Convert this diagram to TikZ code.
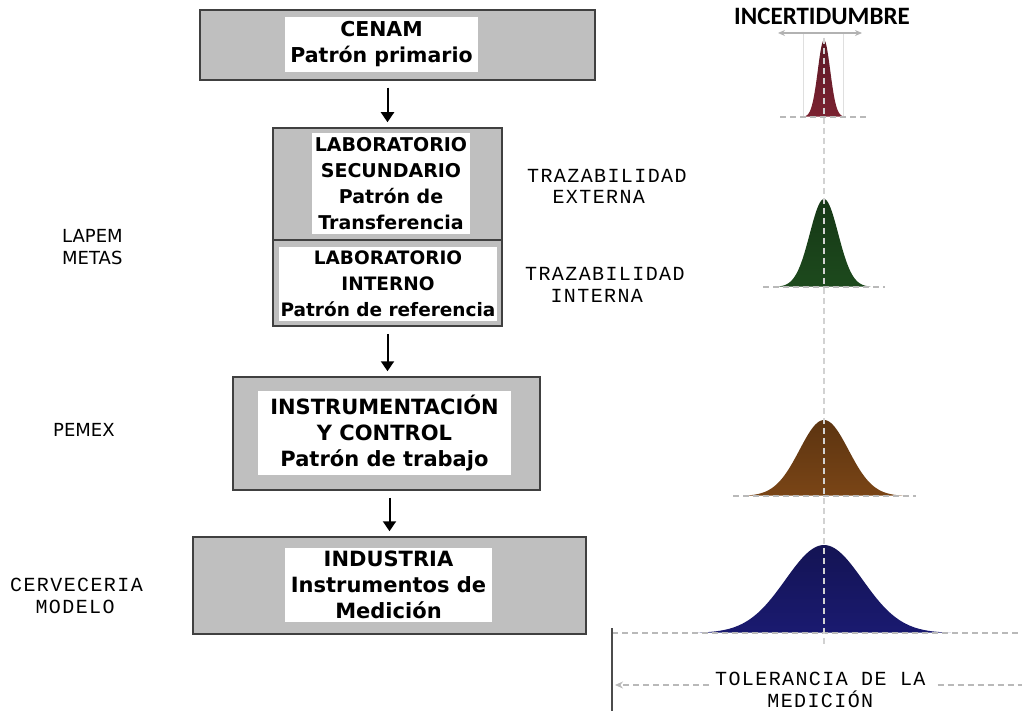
\documentclass[tikz,border=0pt]{standalone}
\usepackage{fontspec}
\setmainfont{DejaVu Sans}
\newfontfamily\monoff[LetterSpace=7]{Liberation Mono}
\newfontfamily\titleff{Carlito}
\usetikzlibrary{arrows.meta,positioning,calc}

\definecolor{bellone}{HTML}{7B2231}
\definecolor{belltwo}{HTML}{1D4A1D}
\definecolor{bellthree}{HTML}{7A4516}
\definecolor{bellfour}{HTML}{1A1A70}

\newcommand\stagefont[1]{\fontsize{#1}{26}\selectfont\bfseries}

\begin{document}
\begin{tikzpicture}[x=1pt,y=-1pt,
  stage/.style={draw=black!75,line width=1.5pt,fill=gray!50,inner sep=0pt},
  caption/.style={fill=white,inner sep=0pt,align=center},
  side/.style={anchor=base west,align=left,inner sep=0pt,font=\fontsize{18}{22}\selectfont},
  mono/.style={anchor=base west,align=left,inner sep=0pt,font=\monoff\fontsize{20}{21.5}\selectfont},
  to/.style={-{Triangle[length=10pt,width=13pt]},line width=2pt,shorten <=7pt,shorten >=5pt},
  guide/.style={gray!55,line width=1.2pt,dash pattern=on 6pt off 4pt},
  bell/.style={smooth,samples=80,domain=-3.3:3.3}]
  \useasboundingbox (0,0) rectangle (1022,711);

  % chain of standards
  \node[stage,minimum width=395,minimum height=70] (cenam) at (397.5,45) {};
  \node[caption,minimum width=193,minimum height=55,font=\stagefont{20.5}] (cenamtxt) at (381.5,44.5) {CENAM\\Patrón primario};

  \node[stage,minimum width=229,minimum height=112] (labsec) at (387.5,184) {};
  \node[caption,minimum width=158,minimum height=101,font=\stagefont{19}] (labsectxt) at (391,183.5) {LABORATORIO\\SECUNDARIO\\Patrón de\\Transferencia};

  \node[stage,minimum width=229,minimum height=86] (labint) at (387.5,283) {};
  \node[caption,minimum width=218,minimum height=74,font=\stagefont{18.5}] (labinttxt) at (388,284) {LABORATORIO\\INTERNO\\Patrón de referencia};

  \node[stage,minimum width=307,minimum height=113] (instr) at (386.5,433.5) {};
  \node[caption,minimum width=253,minimum height=84,font=\stagefont{21}] (instrtxt) at (384.5,433) {INSTRUMENTACIÓN\\Y CONTROL\\Patrón de trabajo};

  \node[stage,minimum width=393,minimum height=97] (ind) at (389.5,585.5) {};
  \node[caption,minimum width=207,minimum height=74,font=\stagefont{21}] (indtxt) at (388.5,585) {INDUSTRIA\\Instrumentos de\\Medición};

  \draw[to] (cenam.south -| labsec.north) -- (labsec.north);
  \draw[to] (labint.south) -- (labint.south |- instr.north);
  \draw[to] (instr.south -| ind.north) -- (ind.north);

  % who holds each level
  \node[side] (lapem) at (62,265) {LAPEM\\METAS};
  \node[side] (pemex) at (53,436) {PEMEX};
  \node[mono] (cerveceria) at (10,613) {CERVECERIA\\\phantom{XX}MODELO};
  \node[mono] (trazext) at (527,204) {TRAZABILIDAD\\\phantom{XX}EXTERNA};
  \node[mono] (trazint) at (525,302) {TRAZABILIDAD\\\phantom{XX}INTERNA};

  % uncertainty bells
  \node[font=\titleff\bfseries\fontsize{25}{28}\selectfont,inner sep=0pt,anchor=base] (incert) at (822,25) {INCERTIDUMBRE};
  \draw[gray!25,line width=1pt] (803,117) -- (803,33) (843,33) -- (843,117);
  \draw[gray!60,line width=1.2pt,{Stealth[length=7pt,width=6pt]}-{Stealth[length=7pt,width=6pt]}] (778,33) -- (862,33);

  \foreach \s/\b/\h/\col in {6.2/117/77/bellone,14.2/287/88/belltwo,24.5/496/76/bellthree,38.5/633/88/bellfour}
    \shade[top color=\col!75!black,bottom color=\col] plot[bell] ({824+\x*\s},{\b-\h*exp(-0.5*(\x)*(\x))}) -- cycle;

  \draw[guide] (780,117) -- (866,117);
  \draw[guide] (763,287) -- (885,287);
  \draw[guide] (733,496) -- (916,496);
  \draw[guide] (612,633) -- (1022,633);
  \draw[guide,gray!35] (824,38) -- (824,645);

  % tolerance
  \draw[black!70,line width=1.5pt] (612,628) -- (612,711);
  \node[mono] (tol) at (715,707) {TOLERANCIA DE LA\\\phantom{XXXX}MEDICIÓN};
  \coordinate (tolend) at (615,685);
  \draw[guide,-{Stealth[length=8pt,width=7pt]}] ([xshift=-6pt]tol.west |- tolend) -- (tolend);
  \draw[guide] ([xshift=12pt]tol.east |- tolend) -- (1022,685);
\end{tikzpicture}
\end{document}
